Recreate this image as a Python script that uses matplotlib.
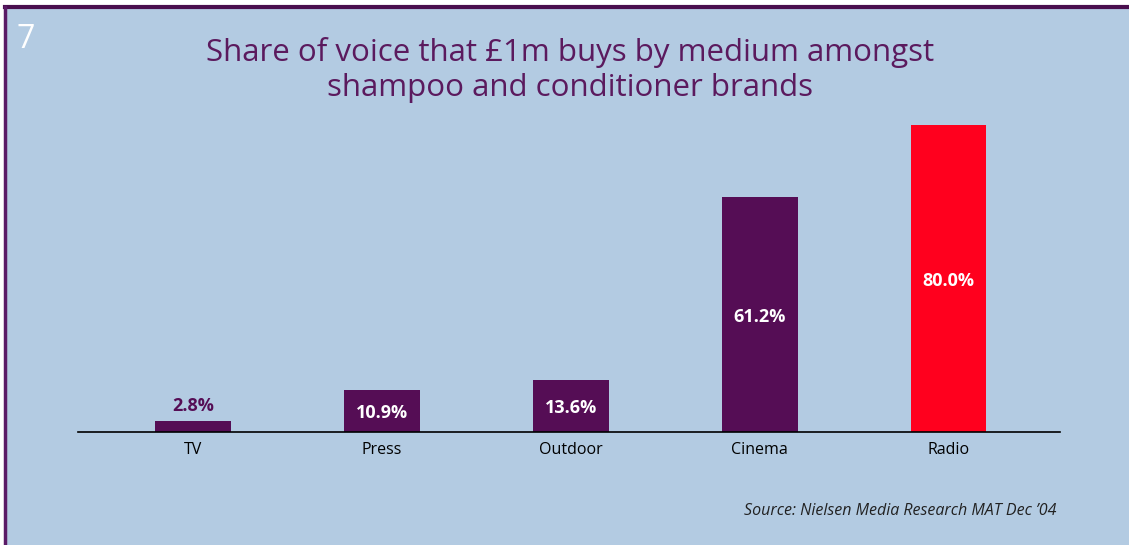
import matplotlib.pyplot as plt
from matplotlib.lines import Line2D

# ── Data ─────────────────────────────────────────────────────────────────────
media = ["TV", "Press", "Outdoor", "Cinema", "Radio"]
share = [2.8, 10.9, 13.6, 61.2, 80.0]
labels = ["2.8%", "10.9%", "13.6%", "61.2%", "80.0%"]

BG = "#b3cbe2"
PURPLE = "#550d55"
RED = "#ff001e"
bar_colors = [PURPLE, PURPLE, PURPLE, PURPLE, RED]

plt.rcParams["font.family"] = ["Open Sans", "DejaVu Sans"]

fig = plt.figure(figsize=(11.29, 5.45), dpi=100)
fig.patch.set_facecolor("white")

# panel background with purple rule on top and left
fig.patches.append(plt.Rectangle((5 / 1129, 0), 1, (545 - 7) / 545,
                                 transform=fig.transFigure, color=BG, zorder=-10))
fig.lines.append(Line2D([5 / 1129, 1], [(545 - 7) / 545] * 2,
                        transform=fig.transFigure, color="#4a0f4e", lw=3))
fig.lines.append(Line2D([5 / 1129] * 2, [0, (545 - 7) / 545],
                        transform=fig.transFigure, color="#5a1a66", lw=2.5))

fig.text(16 / 1129, 1 - 40 / 545, "7", color="white", fontsize=23,
         va="center", ha="left")
fig.text(0.505, 1 - 70 / 545,
         "Share of voice that £1m buys by medium amongst\nshampoo and conditioner brands",
         color="#5b1a5e", fontsize=22.5, ha="center", va="center", linespacing=1.25)

ax = fig.add_axes([78 / 1129, (545 - 432) / 545, (1060 - 78) / 1129, 307 / 545])
ax.set_facecolor("none")
x = range(len(media))
bars = ax.bar(x, share, width=0.40, color=bar_colors, zorder=2)
ax.set_xlim(-0.61, 4.59)
ax.set_ylim(0, 80)

for b, v, lab in zip(bars, share, labels):
    cx = b.get_x() + b.get_width() / 2
    if v < 5:
        ax.text(cx, v + 1.5, lab, ha="center", va="bottom", color=PURPLE,
                fontsize=13, fontweight="bold")
    else:
        ax.text(cx, v / 2 - 0.6, lab, ha="center", va="center", color="white",
                fontsize=13, fontweight="bold")

for s in ["top", "right", "left"]:
    ax.spines[s].set_visible(False)
ax.spines["bottom"].set_linewidth(1.2)
ax.set_yticks([])
ax.set_xticks(list(x))
ax.set_xticklabels(media, fontsize=11.5)
ax.tick_params(axis="x", length=0, pad=7)

fig.text(1057 / 1129, 1 - 511 / 545,
         "Source: Nielsen Media Research MAT Dec \u201904",
         style="italic", fontsize=11.5, ha="right", va="center", color="#222222")

plt.savefig("out.png", dpi=100, facecolor=fig.get_facecolor())
